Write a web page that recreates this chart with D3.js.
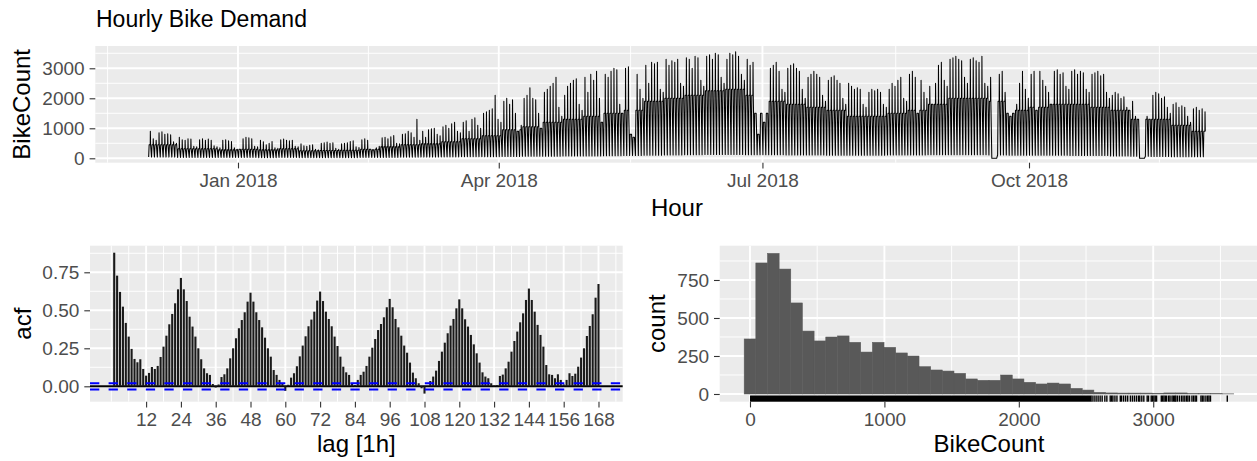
<!DOCTYPE html>
<html>
<head>
<meta charset="utf-8">
<script src="https://cdn.jsdelivr.net/npm/d3@7/dist/d3.min.js"></script>
<style>
	body { margin: 0; background: #fff; }
	svg { display: block; font-family: "Liberation Sans", Arial, Helvetica, sans-serif; }
</style>
</head>
<body>
<svg id="chart" width="1257" height="461"></svg>
<script>
/* Datos */
const titleText = "Hourly Bike Demand";
const seriesStart = Date.UTC(2017, 11, 1);   // primer dia (viernes 1 dic 2017)

// pico diario (hora punta), una fila por semana lun..dom
const dailyPeak = [
	900, 650, 600,
	850, 880, 800, 820, 780, 550, 500,
	700, 620, 600, 650, 640, 400, 380,
	620, 650, 600, 640, 600, 420, 380,
	350, 600, 620, 580, 560, 350, 300,
	300, 650, 700, 680, 650, 400, 380,
	600, 550, 450, 500, 560, 350, 330,
	620, 640, 600, 580, 600, 400, 380,
	480, 420, 400, 430, 450, 300, 280,
	500, 520, 540, 500, 520, 330, 300,
	480, 500, 520, 560, 580, 380, 360,
	620, 650, 600, 300, 280, 350, 400,
	680, 700, 650, 720, 760, 500, 480,
	800, 820, 900, 850, 700, 1300, 600,
	900, 700, 950, 980, 1000, 800, 750,
	1050, 1100, 1000, 1150, 1200, 900, 850,
	1200, 1250, 900, 1300, 1350, 1100, 1000,
	1500, 1550, 1600, 1650, 2100, 1300, 1200,
	1900, 2000, 1800, 1950, 1500, 900, 1100,
	2000, 2100, 2350, 2000, 1950, 1500, 1000,
	2200, 2300, 2400, 2500, 2700, 1700, 1400,
	2100, 2400, 2500, 2600, 2650, 1800, 1600,
	2700, 2200, 2800, 2600, 2900, 2000, 1200,
	2800, 2700, 2900, 3000, 2950, 1800, 1500,
	3000, 3050, 800, 700, 2800, 2300, 2000,
	3100, 2500, 3200, 3150, 3200, 2300, 2200,
	3300, 3100, 3250, 3200, 3300, 2500, 2400,
	3350, 3300, 3000, 3400, 3350, 2600, 2400,
	3400, 3450, 3300, 3500, 3450, 2700, 2500,
	3300, 3500, 3450, 3550, 3400, 2800, 2600,
	3300, 3100, 3200, 1500, 800, 1500, 1200,
	1500, 3000, 3100, 3200, 2900, 2300, 2200,
	3000, 3100, 3150, 3000, 2900, 2300, 2000,
	2700, 2800, 2900, 2800, 2700, 2100, 1900,
	2600, 2700, 2750, 2600, 2500, 2000, 1800,
	2500, 2400, 2300, 2350, 2300, 1800, 1700,
	2200, 2300, 2250, 2300, 2200, 1800, 1700,
	2300, 2500, 2400, 2600, 2700, 2000, 1900,
	2800, 2900, 2700, 1500, 2600, 2200, 2000,
	2400, 1800, 2500, 3100, 3200, 2600, 2400,
	3300, 3350, 3400, 3300, 3250, 2700, 2500,
	3300, 3350, 3250, 3200, 3400, 2500, 2400,
	2700, 0, 0, 2800, 2900, 2200, 1500,
	1400, 1500, 1800, 2500, 2900, 2300, 2000,
	2800, 2900, 1600, 2900, 2600, 2400, 2200,
	1800, 2900, 2950, 2800, 2850, 2400, 2300,
	2900, 2950, 2800, 2900, 2850, 2300, 2200,
	2800, 2850, 2900, 2750, 2800, 2200, 2000,
	2100, 2200, 2150, 2000, 2050, 1700, 1600,
	1900, 1400, 1300, 0, 0, 1400, 1300,
	2100, 2200, 2150, 2000, 2050, 1700, 1500,
	1800, 1850, 1700, 1750, 1700, 1400, 1200,
	1650, 1700, 1600, 1650, 1550
];
// nivel del bloque denso y minimo nocturno, por semana
const weeklyMid = [450, 450, 320, 320, 280, 300, 280, 320, 250, 260, 270, 300, 380, 450, 480, 550, 650,
	750, 950, 1050, 1200, 1300, 1400, 1500, 1600, 1900, 2000, 2100, 2250, 2300, 2100, 1900, 1800, 1700, 1600,
	1400, 1400, 1500, 1600, 1800, 2000, 2000, 1900, 1600, 1700, 1800, 1800, 1700, 1600, 1300, 1300, 1100, 900];
const weeklyLow = [40, 40, 30, 30, 25, 25, 20, 25, 20, 20, 20, 25, 30, 35, 40, 45, 50,
	55, 60, 65, 70, 75, 80, 85, 90, 100, 110, 120, 130, 130, 120, 120, 110, 110, 100,
	100, 100, 110, 110, 120, 120, 120, 110, 100, 100, 100, 90, 90, 80, 70, 60, 55, 50];

const dateTicks = ["2018-01-01", "2018-04-01", "2018-07-01", "2018-10-01"];
const countTicks = [0, 1000, 2000, 3000];

// ACF, lags 1..168
const acfValues = [
	0.879, 0.728, 0.621, 0.524, 0.417, 0.327, 0.246, 0.180, 0.158, 0.178, 0.114, 0.070,
	0.088, 0.127, 0.114, 0.134, 0.193, 0.261, 0.333, 0.408, 0.476, 0.546, 0.638, 0.713,
	0.638, 0.561, 0.458, 0.393, 0.327, 0.250, 0.178, 0.118, 0.086, 0.075, 0.015, -0.008,
	0.012, 0.061, 0.079, 0.118, 0.184, 0.250, 0.316, 0.382, 0.436, 0.487, 0.557, 0.616,
	0.557, 0.487, 0.436, 0.388, 0.320, 0.250, 0.195, 0.107, 0.075, 0.042, 0.015, -0.030,
	0.010, 0.057, 0.086, 0.132, 0.197, 0.268, 0.329, 0.395, 0.439, 0.491, 0.564, 0.623,
	0.561, 0.491, 0.443, 0.395, 0.327, 0.265, 0.195, 0.129, 0.092, 0.075, 0.020, 0.008,
	0.042, 0.075, 0.096, 0.134, 0.195, 0.254, 0.311, 0.370, 0.410, 0.454, 0.520, 0.575,
	0.520, 0.443, 0.388, 0.333, 0.268, 0.221, 0.156, 0.090, 0.053, 0.020, -0.013, -0.048,
	0.002, 0.035, 0.064, 0.103, 0.167, 0.228, 0.287, 0.349, 0.399, 0.443, 0.513, 0.572,
	0.513, 0.441, 0.393, 0.338, 0.276, 0.217, 0.156, 0.092, 0.064, 0.053, 0.020, 0.004,
	0.007, 0.068, 0.077, 0.118, 0.162, 0.228, 0.298, 0.360, 0.421, 0.480, 0.568, 0.643,
	0.568, 0.491, 0.404, 0.338, 0.261, 0.140, 0.079, 0.075, 0.053, 0.079, 0.042, 0.013,
	0.042, 0.086, 0.068, 0.083, 0.129, 0.189, 0.250, 0.331, 0.397, 0.474, 0.583, 0.673
];
const acfCI = 0.0209;
const lagTicks = [12, 24, 36, 48, 60, 72, 84, 96, 108, 120, 132, 144, 156, 168];
const acfTicks = [0, 0.25, 0.5, 0.75];

// histograma: 42 clases centradas en k * ancho
const histBinWidth = 86.73;
const histCounts = [362, 862, 925, 822, 599, 414, 349, 375, 382, 340, 276, 340, 307, 270, 250, 180,
	158, 151, 136, 99, 90, 90, 125, 99, 77, 66, 72, 66, 37, 26, 11, 7, 6, 6, 6, 5, 7, 7, 2, 2, 2, 1];
const histTicksX = [0, 1000, 2000, 3000];
const histTicksY = [0, 250, 500, 750];
const rugDense = [0, 2540];
const rugTail = [2545, 2560, 2575, 2590, 2605, 2620, 2640, 2655, 2680, 2690, 2700, 2715, 2730,
	2755, 2765, 2780, 2795, 2810, 2830, 2845, 2860, 2875, 2890, 2900, 2915, 2930, 2955, 2965,
	2985, 2995, 3005, 3015, 3025, 3060, 3070, 3080, 3090, 3100, 3115, 3125, 3140, 3150, 3160,
	3168, 3180, 3195, 3210, 3222, 3235, 3248, 3258, 3270, 3288, 3300, 3312, 3322, 3355, 3365,
	3377, 3392, 3405, 3415, 3426, 3551];

/* Estilo */
const BG = "#EBEBEB", TICK = "#333333", LABEL = "#4D4D4D";
const FS_TICK = 19, FS_TITLE = 24, FS_MAIN = 23;
const TICK_LEN = 5.7;
const DAY = 864e5;
const fmtInt = d3.format("d");

const svg = d3.select("#chart");

function panel(box, xs, ys, xMaj, xMin, yMaj, yMin) {
	const g = svg.append("g");
	g.append("rect").attr("x", box.l).attr("y", box.t)
		.attr("width", box.r - box.l).attr("height", box.b - box.t).attr("fill", BG);
	const grid = (vals, w, vertical) => g.append("g").selectAll("line").data(vals).join("line")
		.attr("x1", d => vertical ? xs(d) : box.l).attr("x2", d => vertical ? xs(d) : box.r)
		.attr("y1", d => vertical ? box.t : ys(d)).attr("y2", d => vertical ? box.b : ys(d))
		.attr("stroke", "#fff").attr("stroke-width", w);
	grid(yMin, 0.95, false);
	grid(xMin, 0.95, true);
	grid(yMaj, 1.9, false);
	grid(xMaj, 1.9, true);
	return g;
}

function styleAxis(sel) {
	sel.select(".domain").remove();
	sel.selectAll(".tick line").attr("stroke", TICK).attr("stroke-width", 1.1);
	sel.selectAll(".tick text").attr("fill", LABEL).attr("font-size", FS_TICK).attr("font-family", null);
}

function axisTitle(text, x, y, rotate) {
	svg.append("text").attr("transform", `translate(${x},${y})` + (rotate ? " rotate(-90)" : ""))
		.attr("text-anchor", "middle").attr("font-size", FS_TITLE).attr("fill", "#000").text(text);
}

/* Panel 1: serie horaria */
const tsBox = { l: 95.3, r: 1258.5, t: 46, b: 162.7 };
const nDays = dailyPeak.length;
const tStart = seriesStart, tEnd = seriesStart + nDays * DAY - 3600e3;
const tPad = (tEnd - tStart) * 0.05;
const xT = d3.scaleUtc().domain([new Date(tStart - tPad), new Date(tEnd + tPad)]).range([tsBox.l, tsBox.r]);
const yT = d3.scaleLinear().domain([-146.7, 3743]).range([tsBox.b, tsBox.t]);

const majDates = dateTicks.map(s => new Date(s + "T00:00:00Z"));
const step = majDates[1] - majDates[0];
const minDates = [new Date(+majDates[0] - step / 2)]
	.concat(majDates.slice(1).map((d, i) => new Date((+d + +majDates[i]) / 2)))
	.concat([new Date(+majDates[majDates.length - 1] + step / 2)]);
panel(tsBox, xT, yT, majDates, minDates, countTicks, [500, 1500, 2500, 3500]);

const pts = [];
dailyPeak.forEach((pk, d) => {
	const w = Math.floor((d + 4) / 7);
	const lo = pk === 0 ? 0 : weeklyLow[w];
	const md = pk === 0 ? 0 : Math.min(weeklyMid[w], pk);
	const t0 = tStart + d * DAY;
	pts.push([t0 + 4 / 24 * DAY, lo], [t0 + 8 / 24 * DAY, md], [t0 + 17 / 24 * DAY, md],
		[t0 + 18 / 24 * DAY, pk], [t0 + 20 / 24 * DAY, md]);
});
svg.append("path").datum(pts)
	.attr("d", d3.line().x(p => xT(new Date(p[0]))).y(p => yT(p[1])))
	.attr("fill", "none").attr("stroke", "#000").attr("stroke-width", 1.05).attr("stroke-linejoin", "round");

svg.append("g").attr("transform", `translate(${tsBox.l},0)`)
	.call(d3.axisLeft(yT).tickValues(countTicks).tickSize(TICK_LEN).tickPadding(5).tickFormat(fmtInt))
	.call(styleAxis);
svg.append("g").attr("transform", `translate(0,${tsBox.b})`)
	.call(d3.axisBottom(xT).tickValues(majDates).tickSize(TICK_LEN).tickPadding(5)
		.tickFormat(d3.utcFormat("%b %Y")))
	.call(styleAxis);
axisTitle("BikeCount", 29.5, (tsBox.t + tsBox.b) / 2, true);
axisTitle("Hour", (tsBox.l + tsBox.r) / 2, 215.5, false);
svg.append("text").attr("x", 96).attr("y", 26.7).attr("font-size", FS_MAIN).attr("fill", "#000").text(titleText);

/* Panel 2: ACF */
const acfBox = { l: 90, r: 622.7, t: 245.7, b: 401.7 };
const xA = d3.scaleLinear().domain([-7.35, 176.35]).range([acfBox.l, acfBox.r]);
const yA = d3.scaleLinear().domain([-0.1013, 0.925]).range([acfBox.b, acfBox.t]);
const lagMinor = d3.range(0, 181, 6).filter(v => v % 12 !== 0 || v === 0).filter(v => v <= 176);
panel(acfBox, xA, yA, lagTicks, lagMinor, acfTicks, [0.125, 0.375, 0.625, 0.875]);

svg.append("line").attr("x1", acfBox.l).attr("x2", acfBox.r).attr("y1", yA(0)).attr("y2", yA(0))
	.attr("stroke", "#000").attr("stroke-width", 2);
svg.append("g").selectAll("line").data(acfValues).join("line")
	.attr("x1", (v, i) => xA(i + 1)).attr("x2", (v, i) => xA(i + 1))
	.attr("y1", yA(0)).attr("y2", v => yA(v))
	.attr("stroke", "#1a1a1a").attr("stroke-width", 2.1);
svg.append("g").selectAll("line").data([acfCI, -acfCI]).join("line")
	.attr("x1", acfBox.l).attr("x2", acfBox.r).attr("y1", v => yA(v)).attr("y2", v => yA(v))
	.attr("stroke", "#0000FF").attr("stroke-width", 2).attr("stroke-dasharray", "9.3,9.3");

svg.append("g").attr("transform", `translate(${acfBox.l},0)`)
	.call(d3.axisLeft(yA).tickValues(acfTicks).tickSize(TICK_LEN).tickPadding(5).tickFormat(d3.format(".2f")))
	.call(styleAxis);
svg.append("g").attr("transform", `translate(0,${acfBox.b})`)
	.call(d3.axisBottom(xA).tickValues(lagTicks).tickSize(TICK_LEN).tickPadding(5).tickFormat(fmtInt))
	.call(styleAxis);
axisTitle("acf", 30.5, (acfBox.t + acfBox.b) / 2, true);
axisTitle("lag [1h]", (acfBox.l + acfBox.r) / 2, 451.5, false);

/* Panel 3: histograma */
const hBox = { l: 719.7, r: 1258.2, t: 245.7, b: 401.7 };
const xH = d3.scaleLinear().domain([-225.4, 3781]).range([hBox.l, hBox.r]);
const yH = d3.scaleLinear().domain([-50.7, 975.6]).range([hBox.b, hBox.t]);
panel(hBox, xH, yH, histTicksX, [500, 1500, 2500, 3500], histTicksY, [125, 375, 625, 875]);

svg.append("g").selectAll("rect").data(histCounts).join("rect")
	.attr("x", (c, k) => xH((k - 0.5) * histBinWidth))
	.attr("width", xH(histBinWidth) - xH(0))
	.attr("y", c => yH(c)).attr("height", c => yH(0) - yH(c))
	.attr("fill", "#595959").attr("stroke", "#595959").attr("stroke-width", 0.5);

const rugLen = 6.2;
svg.append("rect").attr("x", xH(rugDense[0])).attr("width", xH(rugDense[1]) - xH(rugDense[0]))
	.attr("y", hBox.b - rugLen).attr("height", rugLen).attr("fill", "#000");
svg.append("g").selectAll("line").data(rugTail).join("line")
	.attr("x1", v => xH(v)).attr("x2", v => xH(v)).attr("y1", hBox.b - rugLen).attr("y2", hBox.b)
	.attr("stroke", "#000").attr("stroke-width", 1.4);

svg.append("g").attr("transform", `translate(${hBox.l},0)`)
	.call(d3.axisLeft(yH).tickValues(histTicksY).tickSize(TICK_LEN).tickPadding(5).tickFormat(fmtInt))
	.call(styleAxis);
svg.append("g").attr("transform", `translate(0,${hBox.b})`)
	.call(d3.axisBottom(xH).tickValues(histTicksX).tickSize(TICK_LEN).tickPadding(5).tickFormat(fmtInt))
	.call(styleAxis);
axisTitle("count", 664.5, (hBox.t + hBox.b) / 2, true);
axisTitle("BikeCount", (hBox.l + hBox.r) / 2, 451.5, false);
</script>
</body>
</html>
